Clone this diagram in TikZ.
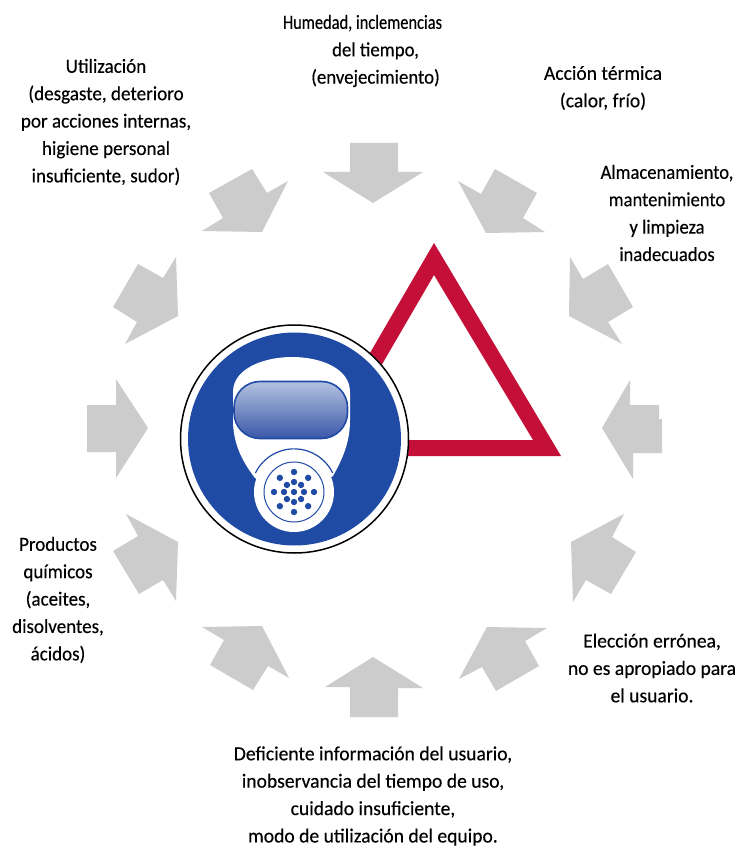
\documentclass[tikz,border=0pt]{standalone}
\usepackage{fontspec}
\setmainfont[FakeBold=0.3]{Carlito}
\newfontfamily\fontHum[FakeBold=0.3,FakeStretch=0.82]{Carlito}
\newfontfamily\fontHumB[FakeBold=0.3,FakeStretch=0.94]{Carlito}
\newfontfamily\fontUti[FakeBold=0.3,FakeStretch=0.955]{Carlito}
\newfontfamily\fontAcc[FakeBold=0.3,FakeStretch=0.98]{Carlito}
\newfontfamily\fontAlm[FakeBold=0.3,FakeStretch=0.93]{Carlito}
\newfontfamily\fontPro[FakeBold=0.3,FakeStretch=0.95]{Carlito}
\usetikzlibrary{calc}
\definecolor{arrowgray}{HTML}{CCCCCC}
\definecolor{signblue}{HTML}{1F4BA5}
\definecolor{signred}{HTML}{C40F38}
\definecolor{visortop}{HTML}{B4C2E0}
\definecolor{visorbot}{HTML}{3A57A8}
\tikzset{
  gar/.style={fill=arrowgray,draw=none},
  lbl/.style={align=center,inner sep=0pt,text=black},
  dot/.style={fill=signblue,draw=none}
}
\newcommand{\lblsize}{\fontsize{20}{27.4}\selectfont}
\begin{document}
\begin{tikzpicture}[x=1pt,y=-1pt]
\useasboundingbox (0,0) rectangle (737,850);
\fill[white] (0,0) rectangle (737,850);
% grey arrows
\fill[gar] (350,143)--(398,143)--(398,172)--(423,172)--(373,203)--(323,172)--(350,172)--cycle;
\fill[gar] (252,169)--(267,193)--(288,181)--(262,232)--(202,231)--(223,218)--(209,193)--cycle;
\fill[gar] (138,264)--(163,278)--(176,257)--(178,316)--(125,344)--(137,322)--(113,307)--cycle;
\fill[gar] (87,405)--(116,405)--(116,379)--(148,428)--(116,478)--(116,452)--(87,452)--cycle;
\fill[gar] (126,514)--(178,542)--(176,601)--(163,580)--(139,594)--(113,551)--(138,536)--cycle;
\fill[gar] (202,627)--(262,626)--(289,678)--(268,666)--(253,690)--(210,665)--(224,640)--cycle;
\fill[gar] (325,687)--(373,657)--(423,688)--(398,688)--(398,717)--(350,717)--(350,687)--cycle;
\fill[gar] (487,627)--(547,628)--(525,641)--(539,666)--(496,691)--(482,667)--(459,679)--cycle;
\fill[gar] (624,514)--(612,537)--(636,552)--(611,594)--(586,580)--(573,602)--(571,542)--cycle;
\fill[gar] (630,380)--(630,405)--(659,405)--(659,419)--(662,419)--(662,453)--(633,453)--(633,479)--(602,428)--cycle;
\fill[gar] (570,257)--(583,279)--(608,264)--(633,307)--(608,322)--(622,344)--(569,316)--cycle;
\fill[gar] (458,181)--(481,194)--(495,169)--(537,193)--(523,218)--(545,232)--(486,233)--cycle;
% triangle
\fill[signred,even odd rule] (434,243)--(561,456)--(310,456)--cycle (434,275)--(533,440)--(338,440)--cycle;
% sign
\fill[white] (294.5,439) circle[radius=114.5];
\draw[black,line width=1.5pt] (294.5,439) circle[radius=114];
\fill[signblue] (294.5,439) circle[radius=106.5];
% mask
\fill[white] (255,478) .. controls (241,460) and (233,442) .. (233,420)
  -- (233,392) .. controls (233,368) and (265,357) .. (292,357)
  .. controls (320,357) and (350,368) .. (350,392) -- (350,420)
  .. controls (350,442) and (343,458) .. (333,476) -- (294,500) -- cycle;
\shade[top color=visortop,bottom color=visorbot,draw=signblue,line width=1.6pt,rounded corners=26pt]
  (234,381.5) rectangle (347.5,438.5);
\fill[white] (294,492) circle[radius=40];
\draw[signblue,line width=1.2pt] (255.4,473) arc[start angle=206,end angle=334,radius=43];
\draw[signblue,line width=1pt] (294,492) circle[radius=30];
\fill[dot] (294,492) circle[radius=3.2];
\foreach \a in {0,45,...,315}{
  \fill[dot] ($(294,492)+(\a:10)$) circle[radius=3.2];
  \fill[dot] ($(294,492)+(\a:20)$) circle[radius=3.2];
}
% labels
\node[lbl,font=\lblsize] (hum) at (369,51) {\hspace*{-13pt}{\fontHum Humedad, inclemencias}\\\hspace*{13pt}{\fontHumB del tiempo,}\\\hspace*{13pt}{\fontHumB (envejecimiento)}};
\node[lbl,font=\fontUti\lblsize] (uti) at (106,122) {Utilización\\(desgaste, deterioro\\por acciones internas,\\higiene personal\\insuficiente, sudor)};
\node[lbl,font=\fontAcc\lblsize] (acc) at (603,88) {Acción térmica\\(calor, frío)};
\node[lbl,font=\fontAlm\lblsize] (alm) at (667,213) {Almacenamiento,\\mantenimiento\\y limpieza\\inadecuados};
\node[lbl,font=\fontPro\lblsize] (pro) at (58,600) {Productos\\químicos\\(aceites,\\disolventes,\\ácidos)};
\node[lbl,font=\fontAcc\lblsize] (ele) at (652,668) {Elección errónea,\\no es apropiado para\\el usuario.};
\node[lbl,font=\fontAcc\lblsize] (def) at (373,796) {Deficiente información del usuario,\\inobservancia del tiempo de uso,\\cuidado insuficiente,\\modo de utilización del equipo.};
\end{tikzpicture}
\end{document}
